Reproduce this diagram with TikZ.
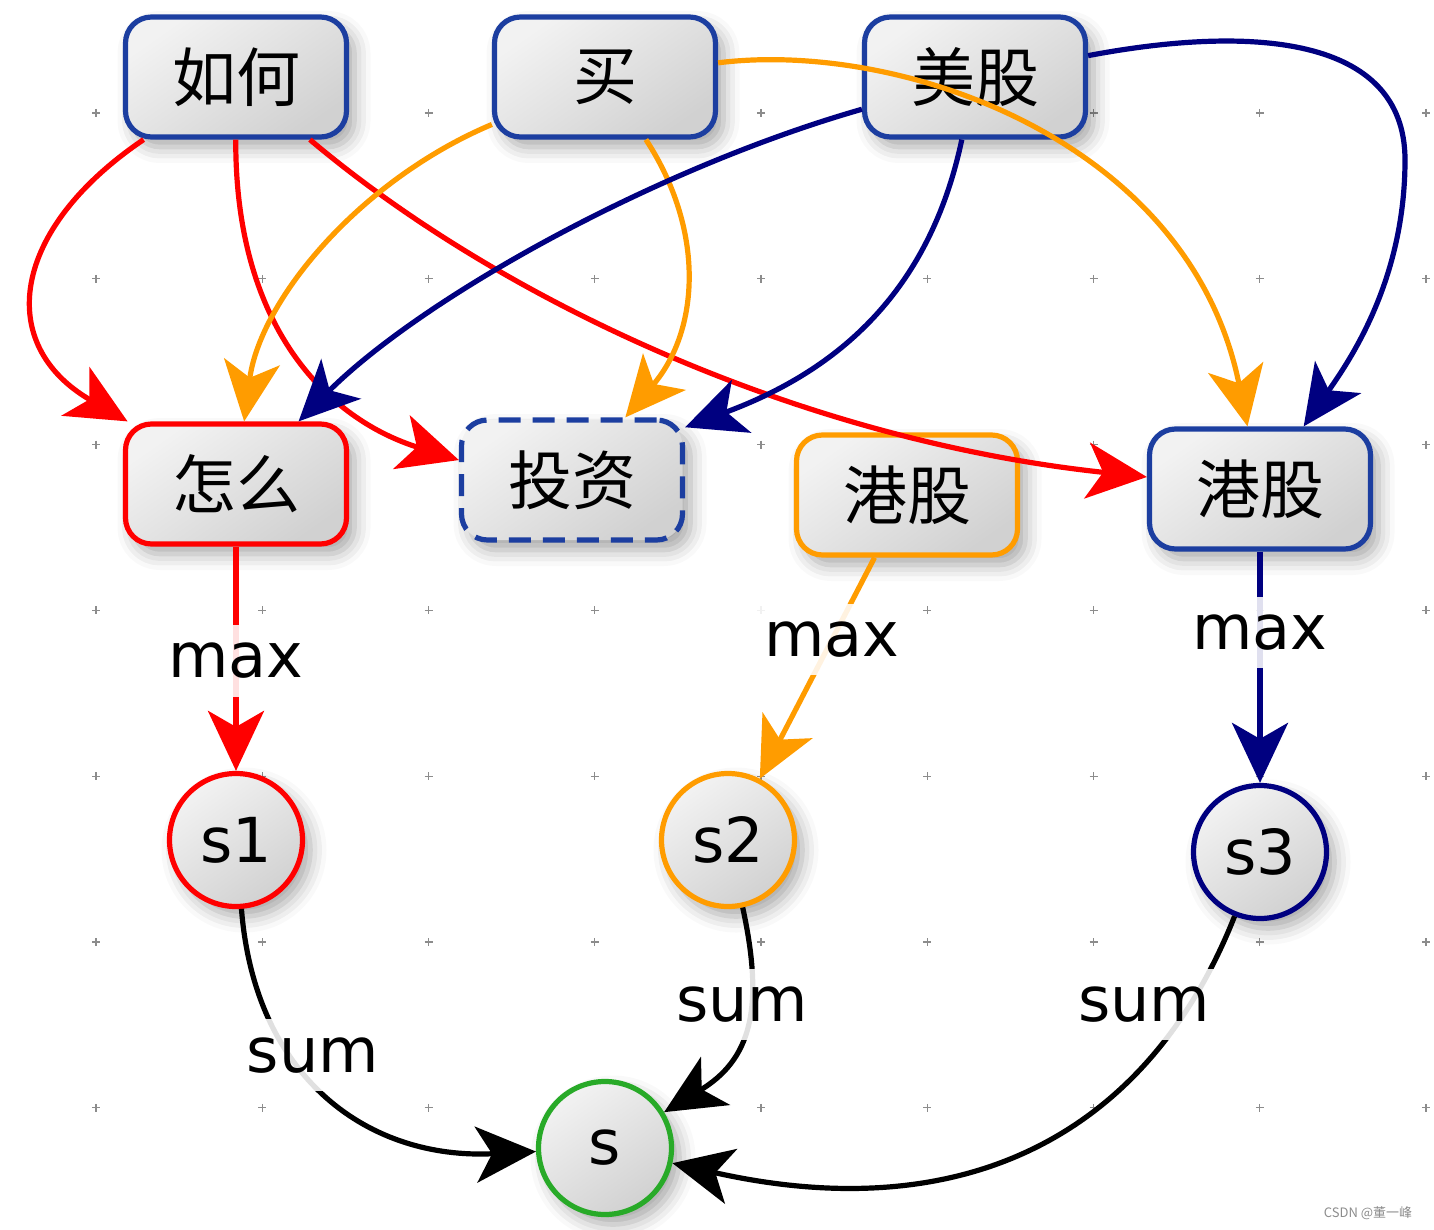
\documentclass[tikz,border=0pt]{standalone}
\usepackage{fontspec}
\setmainfont{DejaVu Sans}
\newfontfamily\cjk{Noto Sans CJK SC}
\usetikzlibrary{arrows.meta,shadows.blur}
\definecolor{boxblue}{RGB}{28,62,160}
\definecolor{myred}{RGB}{255,0,0}
\definecolor{myorange}{RGB}{255,156,0}
\definecolor{mynavy}{RGB}{0,0,128}
\definecolor{mygreen}{RGB}{40,170,40}
\tikzset{
  base/.style={line width=5.2pt, top color=black!5, bottom color=black!18, shading angle=35,
    blur shadow={shadow xshift=8pt, shadow yshift=-10pt, shadow blur radius=16pt, shadow opacity=35},
    text=black},
  wbox/.style={base, rectangle, rounded corners=26pt, minimum width=221pt, minimum height=120pt,
    font=\cjk\fontsize{64}{70}\selectfont},
  rnode/.style={base, circle, minimum size=133pt, inner sep=0pt, font=\fontsize{62}{66}\selectfont},
  arr/.style={line width=5.2pt, line join=round, -{Stealth[length=60pt,width=56pt,inset=16pt]}},
  lbl/.style={fill=white, fill opacity=0.88, text opacity=1, inner xsep=16pt, inner ysep=18pt,
    font=\fontsize{62}{66}\selectfont, text=black},
  gridmark/.style={draw=black!45, line width=1.2pt}
}
\begin{document}
\begin{tikzpicture}[x=1pt,y=-1pt]
\useasboundingbox (0,0) rectangle (1434,1230);
% grid marks
\foreach \i in {0,...,8}{
  \foreach \j in {0,...,6}{
    \pgfmathsetmacro{\gx}{96+166.25*\i}
    \pgfmathsetmacro{\gy}{113+165.8*\j}
    \draw[gridmark] (\gx-4,\gy) -- (\gx+4,\gy) (\gx,\gy-4) -- (\gx,\gy+4);
  }
}
% nodes
\node[wbox, draw=boxblue] (ruhe) at (236,77) {如何};
\node[wbox, draw=boxblue] (mai) at (605,77) {买};
\node[wbox, draw=boxblue] (meigu) at (975,77) {美股};
\node[wbox, draw=myred] (zenme) at (236,484) {怎么};
\node[wbox, draw=boxblue, dash pattern=on 22pt off 12pt] (touzi) at (572,480) {投资};
\node[wbox, draw=myorange] (gango) at (907,495) {港股};
\node[wbox, draw=boxblue] (gangb) at (1260,489) {港股};
\node[rnode, draw=myred] (s1) at (236,840) {s1};
\node[rnode, draw=myorange] (s2) at (728,840) {s2};
\node[rnode, draw=mynavy] (s3) at (1260,852) {s3};
\node[rnode, draw=mygreen] (s) at (605,1148) {s};
% red edges
\draw[arr, myred] (ruhe) .. controls (10,230) and (-5,345) .. (zenme);
\draw[arr, myred] (ruhe) .. controls (235,330) and (330,420) .. (touzi.170);
\draw[arr, myred] (ruhe) .. controls (500,300) and (800,440) .. (gangb);
% orange edges
\draw[arr, myorange] (mai) .. controls (360,180) and (260,300) .. (zenme);
\draw[arr, myorange] (mai) .. controls (705,230) and (700,330) .. (touzi);
\draw[arr, myorange] (mai) .. controls (900,40) and (1190,140) .. (gangb);
% navy edges
\draw[arr, mynavy] (meigu) .. controls (650,170) and (420,300) .. (zenme);
\draw[arr, mynavy] (meigu) .. controls (930,290) and (840,370) .. (touzi.25);
\draw[arr, mynavy] (meigu) .. controls (1250,25) and (1405,35) .. (1405,160)
  .. controls (1405,280) and (1350,360) .. (gangb);
% max edges
\draw[arr, myred] (zenme) -- node[lbl, pos=0.51] {max} (s1);
\draw[arr, myorange] (gango) -- node[lbl, pos=0.37] {max} (s2);
\draw[arr, mynavy] (gangb) -- node[lbl, pos=0.35] {max} (s3);
% sum edges
\draw[arr, black] (s1) .. controls (255,1080) and (370,1160) .. node[lbl, pos=0.35, xshift=22pt] {sum} (s);
\draw[arr, black] (s2) .. controls (765,1010) and (750,1060) .. node[lbl, pos=0.38, xshift=-8pt] {sum} (s);
\draw[arr, black] (s3) .. controls (1150,1130) and (970,1230) .. node[lbl, pos=0.15, xshift=-46pt] {sum} (s);
% watermark
\node[text=black!45, font=\cjk\fontsize{13}{15}\selectfont] (wm) at (1368,1213) {CSDN @董一峰};
\end{tikzpicture}
\end{document}
